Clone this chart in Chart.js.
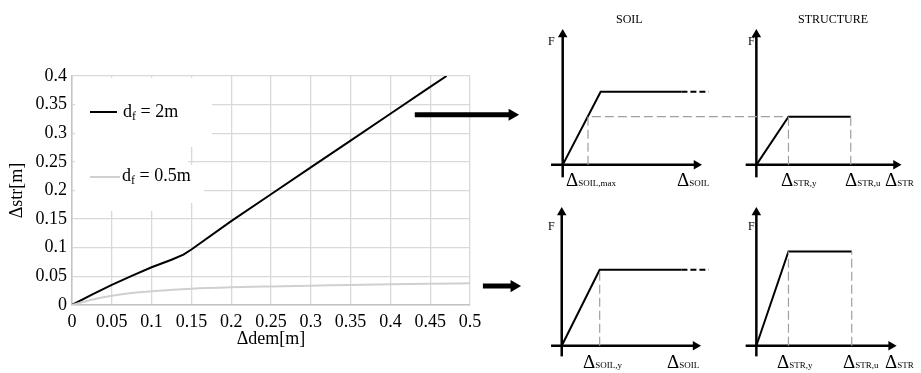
<!DOCTYPE html>
<html>
<head>
<meta charset="utf-8">
<script src="https://cdn.jsdelivr.net/npm/chart.js@4.4.0/dist/chart.umd.min.js"></script>
<style>
body { margin: 0; background: #fff; }
#wrap { position: relative; width: 921px; height: 373px; overflow: hidden; font-family: 'Liberation Serif', 'Times New Roman', serif; color: #000; }
#main { position: absolute; left: 0; top: 0; }
#sketch { position: absolute; left: 400px; top: 0; }
.mask { position: absolute; background: #fff; }
.key { position: absolute; height: 2px; }
.lbl { position: absolute; white-space: nowrap; }
.leg { font-size: 18px; line-height: 18px; }
.leg sub { font-size: 12px; vertical-align: -3px; line-height: 0; }
.cap { font-size: 12px; line-height: 12px; }
.d { font-size: 19px; line-height: 19px; }
.d span { font-size: 9px; }
</style>
</head>
<body>
<div id="wrap">
  <canvas id="main" width="500" height="373"></canvas>
  <!-- white legend boxes over the gridlines -->
  <div class="mask" style="left:75px;top:78px;width:137px;height:69px"></div>
  <div class="mask" style="left:75px;top:147px;width:113px;height:18px"></div>
  <div class="mask" style="left:75px;top:165px;width:129px;height:38px"></div>
  <div class="mask" style="left:75px;top:203px;width:113px;height:8px"></div>
  <div class="key" style="left:90px;top:111px;width:27px;background:#000"></div>
  <div class="lbl leg" style="left:123px;top:102px">d<sub>f</sub> = 2m</div>
  <div class="key" style="left:90px;top:176px;width:30px;background:#d0d0d0"></div>
  <div class="lbl leg" style="left:122px;top:166px">d<sub>f</sub> = 0.5m</div>

  <canvas id="sketch" width="521" height="373"></canvas>
  <div class="lbl cap" style="left:616px;top:13px">SOIL</div>
  <div class="lbl cap" style="left:798px;top:13px">STRUCTURE</div>
  <div class="lbl cap" style="left:548px;top:35px">F</div>
  <div class="lbl cap" style="left:748px;top:35px">F</div>
  <div class="lbl cap" style="left:548px;top:220px">F</div>
  <div class="lbl cap" style="left:748px;top:220px">F</div>
  <div class="lbl d" style="left:566px;top:170px">&Delta;<span>SOIL,max</span></div>
  <div class="lbl d" style="left:677px;top:170px">&Delta;<span>SOIL</span></div>
  <div class="lbl d" style="left:781px;top:170px">&Delta;<span>STR,y</span></div>
  <div class="lbl d" style="left:845px;top:170px">&Delta;<span>STR,u</span></div>
  <div class="lbl d" style="left:885px;top:170px">&Delta;<span>STR</span></div>
  <div class="lbl d" style="left:583px;top:352px">&Delta;<span>SOIL,y</span></div>
  <div class="lbl d" style="left:667px;top:352px">&Delta;<span>SOIL</span></div>
  <div class="lbl d" style="left:777px;top:352px">&Delta;<span>STR,y</span></div>
  <div class="lbl d" style="left:843px;top:352px">&Delta;<span>STR,u</span></div>
  <div class="lbl d" style="left:885px;top:352px">&Delta;<span>STR</span></div>
</div>
<script>
// dem vs str displacement curves
var demStiff = [0, 0.025, 0.05, 0.075, 0.1, 0.125, 0.14, 0.15, 0.2, 0.25, 0.3, 0.35, 0.4, 0.45, 0.4706];
var strStiff = [0, 0.018, 0.035, 0.051, 0.066, 0.079, 0.088, 0.097, 0.1466, 0.1934, 0.2403, 0.2871, 0.334, 0.381, 0.4];
var demSoft = [0, 0.025, 0.05, 0.075, 0.1, 0.15, 0.2, 0.25, 0.3, 0.35, 0.4, 0.45, 0.5];
var strSoft = [0, 0.009, 0.016, 0.021, 0.024, 0.0285, 0.031, 0.0325, 0.0337, 0.035, 0.0362, 0.0372, 0.0378];

// schematic force-displacement panels (local units, origin where the axes cross)
var panelOrigins = [[16.0, 20.9], [35.9, 20.9], [15.9, 2.1], [35.9, 2.1]];
var panelAxisX = [[-1.2, 14.3], [-1.1, 14.9], [-1.1, 14.3], [-1.1, 14.4]];
var panelAxisY = [[-1.3, 14.1], [-1.3, 14.1], [-1.1, 14.4], [-1.1, 14.4]];
var panelCurves = [
  [[0, 0], [3.9, 7.6], [12.2, 7.6]],
  [[0, 0], [3.3, 5.0], [9.7, 5.0]],
  [[0, 0], [3.9, 7.9], [12.3, 7.9]],
  [[0, 0], [3.3, 9.8], [9.8, 9.8]]
];
var panelTails = [[[12.2, 7.6], [15.0, 7.6]], null, [[12.3, 7.9], [15.1, 7.9]], null];
var panelGuides = [
  [[[2.6, 0], [2.6, 5.0], [23.0, 5.0]]],
  [[[3.3, 0], [3.3, 5.0]], [[9.7, 0], [9.7, 5.0]]],
  [[[3.9, 0], [3.9, 7.9]]],
  [[[3.3, 0], [3.3, 9.8]], [[9.8, 0], [9.8, 9.8]]]
];
// the two big arrows pointing from the curves to the panels
var bigArrows = [[[0.8, 26.1], [11.5, 26.1]], [[7.8, 8.3], [11.7, 8.3]]];

function pts(xs, ys) {
  return xs.map(function (x, i) { return {x: x, y: ys[i]}; });
}

new Chart(document.getElementById('main'), {
  type: 'line',
  data: {
    datasets: [{
      label: 'df = 0.5m',
      data: pts(demSoft, strSoft),
      borderColor: '#d0d0d0',
      borderWidth: 2,
      pointRadius: 0,
      cubicInterpolationMode: 'monotone',
      fill: false
    }, {
      label: 'df = 2m',
      data: pts(demStiff, strStiff),
      borderColor: '#000',
      borderWidth: 2,
      pointRadius: 0,
      tension: 0,
      fill: false
    }]
  },
  options: {
    responsive: false,
    animation: false,
    layout: {padding: {top: 76, right: 30, bottom: 23, left: 0}},
    plugins: {legend: {display: false}, tooltip: {enabled: false}},
    scales: {
      x: {
        type: 'linear', min: 0, max: 0.5,
        afterFit: function (s) { s.height = 45; },
        grid: {color: '#d9d9d9', lineWidth: 1.3, drawTicks: false},
        border: {color: '#c4c4c4', width: 1.5},
        ticks: {stepSize: 0.05, padding: 6, color: '#000', font: {family: 'Liberation Serif', size: 18},
          maxRotation: 0, autoSkip: false,
          callback: function (v) { return String(+v.toFixed(2)); }},
        title: {display: true, text: '\u0394dem[m]', color: '#000', padding: 0,
          font: {family: 'Liberation Serif', size: 18}}
      },
      y: {
        min: 0, max: 0.4,
        afterFit: function (s) { s.width = 72; },
        grid: {color: '#d9d9d9', lineWidth: 1.3, drawTicks: false},
        border: {color: '#c4c4c4', width: 1.5},
        ticks: {stepSize: 0.05, padding: 5, color: '#000', font: {family: 'Liberation Serif', size: 18},
          callback: function (v) { return String(+v.toFixed(2)); }},
        title: {display: true, text: '\u0394str[m]', color: '#000', padding: {top: 6, bottom: 0},
          font: {family: 'Liberation Serif', size: 18}}
      }
    }
  }
});

function seg(p, o, color, width, dash) {
  return {
    data: p.map(function (q) { return {x: q[0] + o[0], y: q[1] + o[1]}; }),
    showLine: true, borderColor: color, borderWidth: width, borderDash: dash || [],
    borderCapStyle: 'butt', pointRadius: 0, tension: 0, fill: false, clip: false
  };
}
function head(x, y, rot, r) {
  return {
    data: [{x: x, y: y}], showLine: false, pointStyle: 'triangle', rotation: rot,
    pointRadius: r, backgroundColor: '#000', borderColor: '#000', borderWidth: 0, clip: false
  };
}

var sets = [];
panelOrigins.forEach(function (o, i) {
  panelGuides[i].forEach(function (g) { sets.push(seg(g, o, '#a0a0a0', 1.2, [9, 4])); });
  var ax = panelAxisX[i], ay = panelAxisY[i];
  sets.push(seg([[ax[0], 0], [ax[1] - 0.55, 0]], o, '#000', 2.5));
  sets.push(seg([[0, ay[0]], [0, ay[1] - 0.55]], o, '#000', 2.5));
  sets.push(head(ax[1] - 0.55 + o[0], o[1], 90, 5.5));
  sets.push(head(o[0], ay[1] - 0.55 + o[1], 0, 5.5));
  sets.push(seg(panelCurves[i], o, '#000', 2));
  if (panelTails[i]) sets.push(seg(panelTails[i], o, '#000', 2, [6, 3]));
});
bigArrows.forEach(function (a) {
  var tip = a[1][0], y = a[1][1];
  sets.push(seg([a[0], [tip - 0.7, y]], [0, 0], '#000', 5));
  sets.push(head(tip - 0.7, y, 90, 7));
});

new Chart(document.getElementById('sketch'), {
  type: 'scatter',
  data: {datasets: sets},
  options: {
    responsive: false,
    animation: false,
    layout: {padding: 0},
    plugins: {legend: {display: false}, tooltip: {enabled: false}},
    scales: {
      x: {type: 'linear', min: 0, max: 52.1, display: false},
      y: {type: 'linear', min: 0, max: 37.3, display: false}
    }
  }
});
</script>
</body>
</html>
